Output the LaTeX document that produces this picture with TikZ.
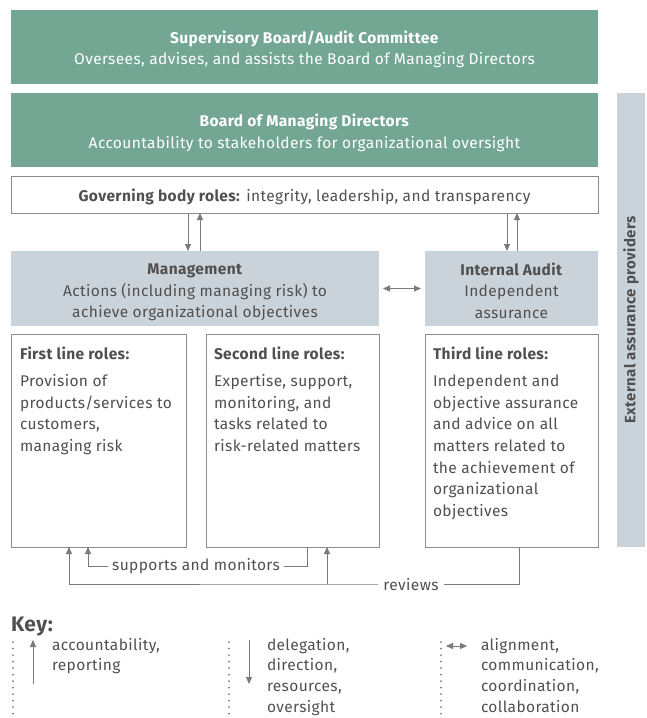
\documentclass[tikz,border=0pt]{standalone}
\usepackage{fontspec}
\setmainfont{Fira Sans}[LetterSpace=2.5]
\usepackage{tikz}
\usetikzlibrary{arrows.meta, positioning, calc}
\usepackage{xcolor}
\definecolor{lodgreen}{HTML}{73A794}
\definecolor{lodgrey}{HTML}{CBD3DA}
\definecolor{lodline}{HTML}{8C8C8C}
\definecolor{lodtext}{HTML}{505050}
\definecolor{lodarrow}{HTML}{7A7A7A}
\newcommand{\lodfont}{\fontsize{15.5}{21.6}\selectfont}

\begin{document}
\begin{tikzpicture}[x=1pt, y=-1pt,
    every node/.style={inner sep=0pt, outer sep=0pt, text=lodtext, font=\lodfont},
    board/.style={fill=lodgreen, minimum width=587pt, minimum height=74pt},
    grey/.style={fill=lodgrey, minimum height=75pt},
    blocktext/.style={align=center},
    rolebox/.style={draw=lodline, fill=white, line width=0.8pt, minimum height=213pt},
    roletext/.style={anchor=north west, align=left},
    keytext/.style={anchor=north west, align=left, font=\fontsize{15.5}{20.9}\selectfont},
    flow/.style={draw=lodarrow, line width=0.9pt, -{Triangle[length=7pt, width=6pt]}},
    keydots/.style={draw=lodarrow, line width=2pt, line cap=round, dash pattern=on 0pt off 6.5pt}
]
\useasboundingbox (0,0) rectangle (647,718);

% top boards
\node[board, anchor=north west] (sup) at (11,10) {};
\node[blocktext, text=white] (supt) at ($(sup.center)+(0,2.5)$)
  {\textbf{Supervisory Board/Audit Committee}\\Oversees, advises, and assists the Board of Managing Directors};
\node[board, anchor=north west] (bmd) at (11,93) {};
\node[blocktext, text=white] (bmdt) at ($(bmd.center)+(0,3)$)
  {\textbf{Board of Managing Directors}\\Accountability to stakeholders for organizational oversight};
\node[draw=lodline, line width=0.8pt, minimum width=587pt, minimum height=37pt, anchor=north west] (gov) at (11,176) {};
\node (govt) at ($(gov.center)+(0,2)$) {\textbf{Governing body roles:} integrity, leadership, and transparency};

% management and internal audit
\node[grey, minimum width=368pt, anchor=north west] (mgmt) at (11,251) {};
\node[blocktext] (mgmtt) at ($(mgmt.center)+(0,4)$)
  {\textbf{Management}\\Actions (including managing risk) to\\achieve organizational objectives};
\node[grey, minimum width=173pt, anchor=north west] (ia) at (425,251) {};
\node[blocktext] (iat) at ($(ia.center)+(0,2)$)
  {\textbf{Internal Audit}\\Independent\\assurance};

% external assurance providers
\node[fill=lodgrey, minimum width=28pt, minimum height=454pt, anchor=north west] (ext) at (617,93) {};
\node[rotate=90, font=\fontsize{15}{18}\selectfont\bfseries] (extt) at (ext.center) {External assurance providers};

% line roles
\node[rolebox, minimum width=175pt, anchor=north west] (first) at (11,334) {};
\node[rolebox, minimum width=173pt, anchor=north west] (second) at (206,334) {};
\node[rolebox, minimum width=173pt, anchor=north west] (third) at (425,334) {};
\node[roletext] (firstt) at ($(first.north west)+(9,12.5)$)
  {\textbf{First line roles:}\\[6pt]Provision of\\products/services to\\customers,\\managing risk};
\node[roletext] (secondt) at ($(second.north west)+(8,12.5)$)
  {\textbf{Second line roles:}\\[6pt]Expertise, support,\\monitoring, and\\tasks related to\\risk-related matters};
\node[roletext] (thirdt) at ($(third.north west)+(8,12.5)$)
  {\textbf{Third line roles:}\\[6pt]Independent and\\objective assurance\\and advice on all\\matters related to\\the achievement of\\organizational\\objectives};

% vertical links governing body <-> management / internal audit
\draw[flow] (gov.south -| 188,0) -- (mgmt.north -| 188,0);
\draw[flow] (mgmt.north -| 200,0) -- (gov.south -| 200,0);
\draw[flow] (gov.south -| 507,0) -- (ia.north -| 507,0);
\draw[flow] (ia.north -| 517,0) -- (gov.south -| 517,0);
\draw[flow, {Triangle[length=7pt, width=6pt]}-{Triangle[length=7pt, width=6pt]}] ($(mgmt.east)+(4,0)$) -- ($(ia.west)+(-4,0)$);

% supports and monitors / reviews
\coordinate (supS) at (second.south -| 307,0);
\coordinate (supE) at (first.south -| 88,0);
\coordinate (revS) at (third.south -| 519,0);
\coordinate (revE) at (first.south -| 69,0);
\coordinate (revB) at (second.south -| 327,0);
\coordinate (revJ) at (327,584);
\draw[flow] (supS) |- ($(supE)+(0,19)$) -- (supE);
\node[fill=white, inner xsep=4pt, inner ysep=2pt] (suplbl) at (196,566) {supports and monitors};
\draw[flow] (revS) |- (revJ) -| (revE);
\draw[flow] (revJ) -- (revB);
\node[fill=white, inner xsep=5pt, inner ysep=2pt] (revlbl) at (411,585) {reviews};

% key
\node[anchor=west, font=\fontsize{21}{24}\selectfont\bfseries] (key) at (11,627) {Key:};
\draw[keydots] (13,642) -- (13,718);
\draw[keydots] (229,642) -- (229,718);
\draw[keydots] (441,642) -- (441,718);
\coordinate (kupA) at (33,684);
\coordinate (kupB) at (33,640);
\draw[flow] (kupA) -- (kupB);
\coordinate (kdnA) at (249,640);
\coordinate (kdnB) at (249,684);
\draw[flow] (kdnA) -- (kdnB);
\coordinate (kbiA) at (446,646);
\coordinate (kbiB) at (467,646);
\draw[flow, {Triangle[length=7pt, width=6pt]}-{Triangle[length=7pt, width=6pt]}] (kbiA) -- (kbiB);
\node[keytext] (kup) at (52,638) {accountability,\\reporting};
\node[keytext] (kdn) at (267,638) {delegation,\\direction,\\resources,\\oversight};
\node[keytext] (kbi) at (481,638) {alignment,\\communication,\\coordination,\\collaboration};
\end{tikzpicture}
\end{document}
